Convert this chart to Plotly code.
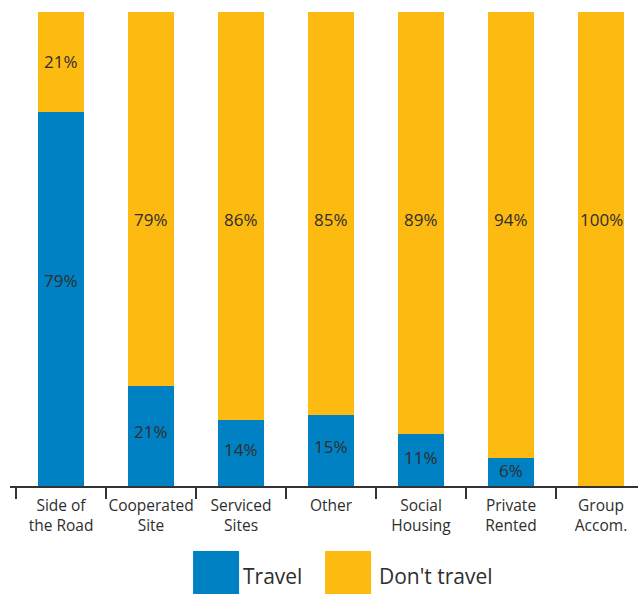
import plotly.graph_objects as go

# Share of respondents who travel, by accommodation type (percent)
categories = ["Side of<br>the Road", "Cooperated<br>Site", "Serviced<br>Sites", "Other",
              "Social<br>Housing", "Private<br>Rented", "Group<br>Accom."]
travel = [79, 21, 14, 15, 11, 6, 0]
dont_travel = [21, 79, 86, 85, 89, 94, 100]

BLUE = "#0081C3"
YELLOW = "#FDBA10"
TEXT = "#2E2E2E"
FONT = "Open Sans"
VALUE_FONT = dict(family=FONT, size=17, color=TEXT)

fig = go.Figure()

fig.add_trace(go.Bar(
    x=categories, y=travel, name="Travel", marker_color=BLUE,
    marker_line_width=0, hoverinfo="skip",
))
fig.add_trace(go.Bar(
    x=categories, y=dont_travel, name="Don't travel", marker_color=YELLOW,
    marker_line_width=0, hoverinfo="skip",
))

# "Travel" labels sit a little above the middle of the blue segment
for cat, t in zip(categories, travel):
    if t > 0:
        fig.add_annotation(x=cat, y=t * 0.55, text=f"{t}%", showarrow=False,
                           font=VALUE_FONT, xref="x", yref="y")

# "Don't travel" labels: short segments get a centred label,
# tall segments share one common label height
for cat, t, d in zip(categories, travel, dont_travel):
    mid = t + d / 2
    fig.add_annotation(
        x=cat, y=mid if mid > 70 else 56.3, text=f"{d}%", showarrow=False,
        font=VALUE_FONT, xref="x", yref="y",
    )

# Legend drawn as large swatches with labels below the axis
legend_items = [("Travel", BLUE, 0.2915, 0.368), ("Don't travel", YELLOW, 0.5017, 0.585)]
for label, color, sx, tx in legend_items:
    fig.add_shape(type="rect", xref="paper", yref="paper",
                  x0=sx, x1=sx + 0.0733, y0=-0.137, y1=-0.24,
                  fillcolor=color, line_width=0, layer="above")
    fig.add_annotation(x=tx, y=-0.19, xref="paper", yref="paper", text=label,
                       showarrow=False, xanchor="left", yanchor="middle",
                       font=dict(family=FONT, size=21, color=TEXT))

fig.update_layout(
    barmode="stack",
    bargap=0.48,
    width=638, height=594,
    margin=dict(l=10, r=0, t=12, b=108, autoexpand=False),
    paper_bgcolor="white", plot_bgcolor="white",
    showlegend=False,
    xaxis=dict(
        type="category", range=[-0.5667, 6.411],
        showline=True, linecolor="#333333", linewidth=2,
        ticks="outside", tickson="boundaries", ticklen=11, tickwidth=2,
        tickcolor="#333333", showgrid=False, zeroline=False,
        tickangle=0, automargin=False, ticklabelstandoff=4,
        tickfont=dict(family=FONT, size=15.5, color=TEXT),
    ),
    yaxis=dict(range=[0, 100], visible=False, showgrid=False, zeroline=False),
)

fig.write_html("out.html")
